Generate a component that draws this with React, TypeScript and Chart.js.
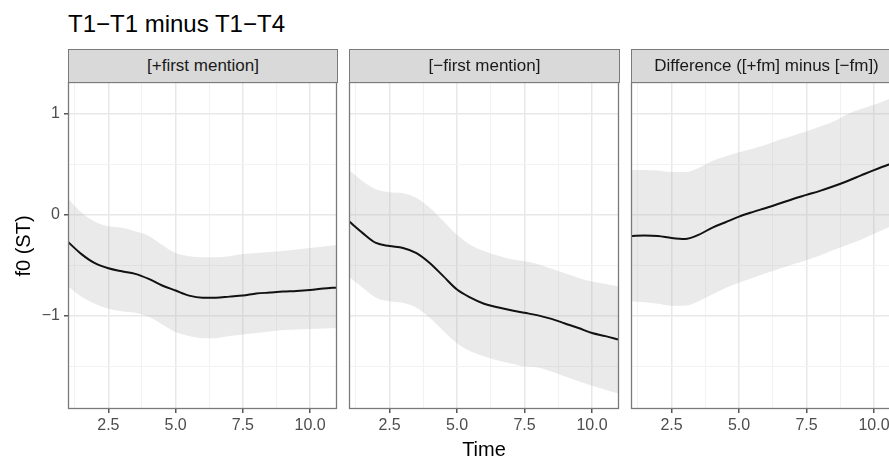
import React, { useEffect, useRef } from "react";
import { Chart, registerables } from "chart.js";

Chart.register(...registerables);

// ---------- data ----------
const TIME = [1, 1.5, 2, 2.5, 3, 3.5, 4, 4.5, 5, 5.5, 6, 6.5, 7, 7.5, 8, 8.5, 9, 9.5, 10, 10.5, 11];

const P1_FIT = [-0.27, -0.39, -0.48, -0.53, -0.56, -0.585, -0.635, -0.7, -0.75, -0.8, -0.82, -0.82, -0.81, -0.8, -0.78, -0.77, -0.76, -0.755, -0.745, -0.73, -0.72];
const P1_UPPER = [0.16, 0.02, -0.07, -0.115, -0.13, -0.165, -0.21, -0.3, -0.38, -0.41, -0.42, -0.42, -0.41, -0.39, -0.38, -0.37, -0.36, -0.345, -0.33, -0.315, -0.3];
const P1_LOWER = [-0.71, -0.81, -0.88, -0.93, -0.955, -0.97, -1.01, -1.085, -1.16, -1.2, -1.22, -1.22, -1.2, -1.185, -1.17, -1.155, -1.14, -1.135, -1.13, -1.125, -1.12];

const P2_FIT = [-0.066, -0.18, -0.28, -0.31, -0.33, -0.38, -0.48, -0.61, -0.74, -0.82, -0.88, -0.915, -0.945, -0.97, -0.995, -1.03, -1.075, -1.12, -1.17, -1.2, -1.235];
const P2_UPPER = [0.44, 0.33, 0.25, 0.22, 0.21, 0.165, 0.066, -0.066, -0.2, -0.3, -0.36, -0.405, -0.44, -0.46, -0.49, -0.535, -0.58, -0.625, -0.66, -0.685, -0.71];
const P2_LOWER = [-0.61, -0.72, -0.82, -0.855, -0.87, -0.92, -1.02, -1.15, -1.27, -1.35, -1.4, -1.44, -1.47, -1.5, -1.51, -1.55, -1.6, -1.645, -1.69, -1.73, -1.77];

const P3_FIT = [-0.21, -0.205, -0.21, -0.23, -0.24, -0.2, -0.13, -0.075, -0.02, 0.025, 0.066, 0.11, 0.155, 0.195, 0.235, 0.28, 0.33, 0.385, 0.44, 0.49, 0.53];
const P3_UPPER = [0.44, 0.44, 0.435, 0.42, 0.42, 0.46, 0.53, 0.575, 0.615, 0.65, 0.69, 0.74, 0.78, 0.82, 0.87, 0.92, 0.99, 1.04, 1.085, 1.135, 1.2];
const P3_LOWER = [-0.855, -0.865, -0.88, -0.9, -0.9, -0.855, -0.79, -0.725, -0.67, -0.625, -0.58, -0.535, -0.49, -0.45, -0.405, -0.35, -0.3, -0.25, -0.19, -0.13, -0.07];

const X_MAJOR = [2.5, 5, 7.5, 10];
const X_MAJOR_LABELS = ["2.5", "5.0", "7.5", "10.0"];
const X_MINOR = [1.25, 3.75, 6.25, 8.75];
const Y_MAJOR = [-1, 0, 1];
const Y_MAJOR_LABELS = ["\u22121", "0", "1"];
const Y_MINOR = [-1.5, -0.5, 0.5];

const X_MIN = 1;
const X_MAX = 11;
const Y_MIN = -1.92;
const Y_MAX = 1.31;

const STRIPS = ["[+first mention]", "[\u2212first mention]", "Difference ([+fm] minus [\u2212fm])"];
const SUBTITLE = "T1\u2212T1 minus T1\u2212T4";
const Y_TITLE = "f0 (ST)";
const X_TITLE = "Time";

const FONT = "'Liberation Sans', Arial, Helvetica, sans-serif";
const BORDER = "#7a7a7a";

const panelBorder = {
  id: "panelBorder",
  afterDraw(chart: any) {
    const { ctx, chartArea } = chart;
    ctx.save();
    ctx.strokeStyle = BORDER;
    ctx.lineWidth = 1.3;
    ctx.strokeRect(chartArea.left + 0.5, chartArea.top + 0.5, chartArea.right - chartArea.left - 1, chartArea.bottom - chartArea.top - 1);
    ctx.restore();
  },
};

type PanelProps = {
  left: number;
  width: number;
  showY: boolean;
  fit: number[];
  upper: number[];
  lower: number[];
};

function toPts(ys: number[]) {
  return TIME.map((t, i) => ({ x: t, y: ys[i] }));
}

function noPad(s: any) {
  s.paddingTop = 0;
  s.paddingBottom = 0;
  s.paddingLeft = 0;
  s.paddingRight = 0;
}

function Panel({ left, width, showY, fit, upper, lower }: PanelProps) {
  const ref = useRef<HTMLCanvasElement | null>(null);
  const TOP = 81;
  const HEIGHT = 459 - TOP;

  useEffect(() => {
    if (!ref.current) return;
    const isMajorX = (v: number) => X_MAJOR.some((m) => Math.abs(m - v) < 1e-6);
    const isMajorY = (v: number) => Y_MAJOR.some((m) => Math.abs(m - v) < 1e-6);
    const chart = new Chart(ref.current, {
      type: "line",
      data: {
        datasets: [
          {
            data: toPts(fit),
            borderColor: "#111111",
            borderWidth: 2,
            pointRadius: 0,
            fill: false,
            cubicInterpolationMode: "monotone",
          },
          {
            data: toPts(upper),
            borderWidth: 0,
            borderColor: "rgba(0,0,0,0)",
            backgroundColor: "rgba(170,170,170,0.25)",
            pointRadius: 0,
            fill: "+1",
            cubicInterpolationMode: "monotone",
          },
          {
            data: toPts(lower),
            borderWidth: 0,
            borderColor: "rgba(0,0,0,0)",
            pointRadius: 0,
            fill: false,
            cubicInterpolationMode: "monotone",
          },
        ],
      },
      options: {
        responsive: false,
        maintainAspectRatio: false,
        animation: false,
        events: [],
        layout: { padding: { left: showY ? 0 : 1, right: 1, top: 1, bottom: 0 } },
        plugins: {
          legend: { display: false },
          tooltip: { enabled: false },
          title: { display: false },
        },
        scales: {
          x: {
            type: "linear",
            min: X_MIN,
            max: X_MAX,
            bounds: "data",
            afterBuildTicks: (s: any) => {
              s.ticks = [...X_MINOR, ...X_MAJOR].sort((a, b) => a - b).map((v) => ({ value: v }));
            },
            afterFit: (s: any) => {
              s.height = HEIGHT - (409 - TOP);
              noPad(s);
            },
            border: { display: false },
            grid: {
              color: (c: any) => (c.tick && isMajorX(c.tick.value) ? "#e8e8e8" : "#f2f2f2"),
              lineWidth: (c: any) => (c.tick && isMajorX(c.tick.value) ? 1.5 : 1),
              tickColor: (c: any) => (c.tick && isMajorX(c.tick.value) ? "#555555" : "rgba(0,0,0,0)"),
              tickLength: 4,
              drawTicks: true,
            },
            ticks: {
              autoSkip: false,
              maxRotation: 0,
              padding: 3,
              color: "#4d4d4d",
              font: { family: FONT, size: 16 },
              callback: (v: any) => {
                const i = X_MAJOR.findIndex((m) => Math.abs(m - Number(v)) < 1e-6);
                return i >= 0 ? X_MAJOR_LABELS[i] : "";
              },
            },
          },
          y: {
            type: "linear",
            min: Y_MIN,
            max: Y_MAX,
            bounds: "data",
            afterBuildTicks: (s: any) => {
              s.ticks = [...Y_MINOR, ...Y_MAJOR].sort((a, b) => a - b).map((v) => ({ value: v }));
            },
            afterFit: (s: any) => {
              s.width = showY ? 68 : 0;
              noPad(s);
            },
            border: { display: false },
            grid: {
              color: (c: any) => (c.tick && isMajorY(c.tick.value) ? "#e8e8e8" : "#f2f2f2"),
              lineWidth: (c: any) => (c.tick && isMajorY(c.tick.value) ? 1.5 : 1),
              tickColor: (c: any) => (showY && c.tick && isMajorY(c.tick.value) ? "#555555" : "rgba(0,0,0,0)"),
              tickLength: showY ? 4 : 0,
              drawTicks: showY,
            },
            ticks: {
              display: showY,
              autoSkip: false,
              padding: 4,
              color: "#4d4d4d",
              font: { family: FONT, size: 16 },
              callback: (v: any) => {
                const i = Y_MAJOR.findIndex((m) => Math.abs(m - Number(v)) < 1e-6);
                return i >= 0 ? Y_MAJOR_LABELS[i] : "";
              },
            },
          },
        },
      } as any,
      plugins: [panelBorder],
    });
    return () => chart.destroy();
  }, []);

  return (
    <canvas
      ref={ref}
      width={width}
      height={HEIGHT}
      style={{ position: "absolute", left, top: TOP, width, height: HEIGHT }}
    />
  );
}

function Strip({ left, width, text }: { left: number; width: number; text: string }) {
  return (
    <div
      style={{
        position: "absolute",
        left,
        top: 49,
        width,
        height: 34,
        boxSizing: "border-box",
        background: "#d9d9d9",
        border: `1.3px solid ${BORDER}`,
        fontFamily: FONT,
        fontSize: 17,
        color: "#1a1a1a",
        display: "flex",
        alignItems: "center",
        justifyContent: "center",
        whiteSpace: "nowrap",
      }}
    >
      {text}
    </div>
  );
}

export default function App() {
  return (
    <div
      style={{
        position: "absolute",
        left: 0,
        top: 0,
        width: 889,
        height: 459,
        overflow: "hidden",
        background: "#ffffff",
      }}
    >
      <div
        style={{
          position: "absolute",
          left: 68,
          top: 12,
          fontFamily: FONT,
          fontSize: 24,
          lineHeight: "24px",
          color: "#000",
          whiteSpace: "nowrap",
        }}
      >
        {SUBTITLE}
      </div>

      <Panel left={0} width={338} showY={true} fit={P1_FIT} upper={P1_UPPER} lower={P1_LOWER} />
      <Panel left={348} width={272} showY={false} fit={P2_FIT} upper={P2_UPPER} lower={P2_LOWER} />
      <Panel left={630} width={272} showY={false} fit={P3_FIT} upper={P3_UPPER} lower={P3_LOWER} />

      <Strip left={68} width={270} text={STRIPS[0]} />
      <Strip left={349} width={271} text={STRIPS[1]} />
      <Strip left={631} width={271} text={STRIPS[2]} />

      <div
        style={{
          position: "absolute",
          left: 23 - 50,
          top: 246 - 12,
          width: 100,
          height: 24,
          lineHeight: "24px",
          textAlign: "center",
          transform: "rotate(-90deg)",
          fontFamily: FONT,
          fontSize: 20,
          color: "#000",
          whiteSpace: "nowrap",
        }}
      >
        {Y_TITLE}
      </div>

      <div
        style={{
          position: "absolute",
          left: 484 - 50,
          top: 439,
          width: 100,
          lineHeight: "20px",
          textAlign: "center",
          fontFamily: FONT,
          fontSize: 20,
          color: "#000",
          whiteSpace: "nowrap",
        }}
      >
        {X_TITLE}
      </div>
    </div>
  );
}
